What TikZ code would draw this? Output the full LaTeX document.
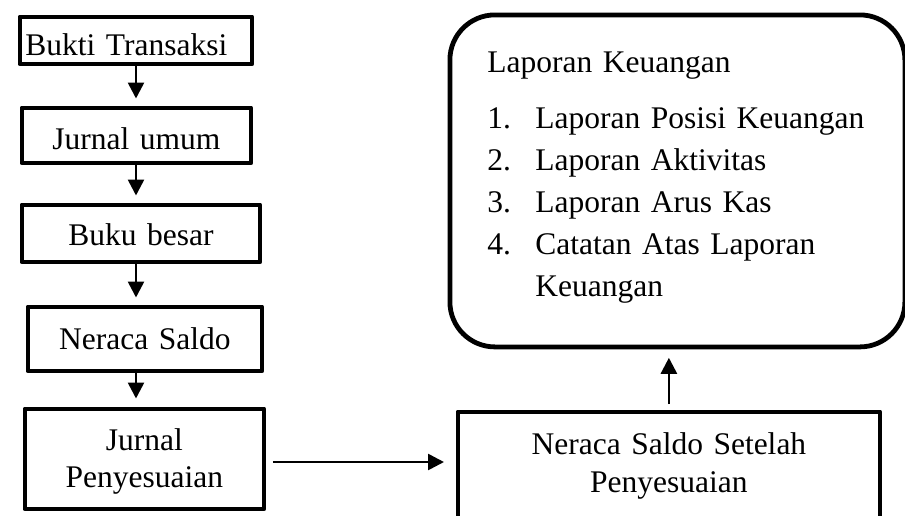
\documentclass[tikz,border=0pt]{standalone}
\usepackage{fontspec}
\setmainfont{Liberation Serif}
\usetikzlibrary{arrows.meta}
\tikzset{
  box/.style={draw, line width=4.8pt, line join=round, inner sep=0pt, align=center,
    anchor=north west, font=\fontsize{31.5}{37.5}\selectfont},
  arr/.style={line width=2.6pt, -{Triangle[length=16pt,width=16pt]}},
}
\begin{document}
\begin{tikzpicture}[x=1pt,y=-1pt]
\path[use as bounding box] (0,0) rectangle (905,515);
\clip (0,0) rectangle (905,515);

\node[box, align=left, inner xsep=5.5pt, text width=221pt, text height=38.5pt, text depth=8.5pt] (b1) at (17.5,14.5) {Bukti Transaksi};
\node[box, text width=229pt, text height=41.5pt, text depth=13.5pt] (b2) at (19.5,105.5) {Jurnal umum};
\node[box, text width=238pt, text height=40.5pt, text depth=16.5pt] (b3) at (19.5,202.5) {Buku besar};
\node[box, text width=234pt, text height=42.5pt, text depth=21.5pt] (b4) at (25.5,304.5) {Neraca Saldo};
\node[box, text width=239pt, text height=41.5pt, text depth=58.5pt] (b5) at (22.5,406.5) {Jurnal\\Penyesuaian};
\node[box, font=\fontsize{31.5}{38}\selectfont, text width=422pt, text height=42.5pt, text depth=108pt] (b6) at (455.5,409.5) {Neraca Saldo Setelah\\Penyesuaian};
\node[box, rounded corners=45pt, align=left, inner xsep=37.5pt, text width=380pt, text height=57.5pt, text depth=274.5pt,
  font=\fontsize{31.5}{42}\selectfont] (b7) at (447.5,12.5)
  {\mbox{Laporan Keuangan}\\[14pt]
   \mbox{\makebox[48pt][l]{1.}Laporan Posisi Keuangan}\\
   \mbox{\makebox[48pt][l]{2.}Laporan Aktivitas}\\
   \mbox{\makebox[48pt][l]{3.}Laporan Arus Kas}\\
   \mbox{\makebox[48pt][l]{4.}Catatan Atas Laporan}\\
   \mbox{\hspace*{48pt}Keuangan}};

\coordinate (ax) at (136,0);
\coordinate (ay) at (0,462);
\draw[arr, shorten >=7pt] (b1.south -| ax) -- (b2.north -| ax);
\draw[arr, shorten >=7pt] (b2.south -| ax) -- (b3.north -| ax);
\draw[arr, shorten >=7pt] (b3.south -| ax) -- (b4.north -| ax);
\draw[arr, shorten >=8pt] (b4.south -| ax) -- (b5.north -| ax);
\draw[arr, shorten <=6.5pt, shorten >=11.5pt] (b5.east |- ay) -- (b6.west |- ay);
\draw[arr, shorten <=5.5pt, shorten >=8.5pt] (b6.north) -- (b7.south -| b6.north);
\end{tikzpicture}
\end{document}
